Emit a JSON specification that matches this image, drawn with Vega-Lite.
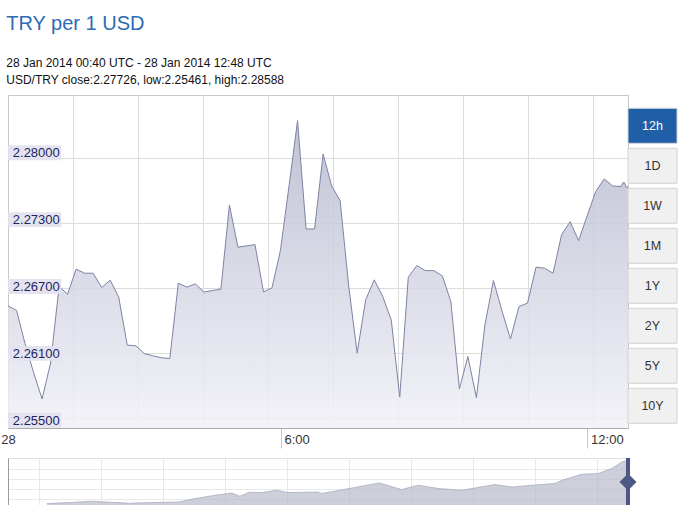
{
  "$schema": "https://vega.github.io/schema/vega-lite/v6.json",
  "background": "#ffffff",
  "padding": {"left": 0, "top": 13, "right": 0, "bottom": 0},
  "config": {"font": "Liberation Sans", "axis": {"labelFont": "Liberation Sans"}},
  "title": {
    "text": "TRY per 1 USD",
    "subtitle": ["28 Jan 2014 00:40 UTC - 28 Jan 2014 12:48 UTC", "USD/TRY close:2.27726, low:2.25461, high:2.28588"],
    "anchor": "start",
    "dx": 6,
    "font": "Liberation Sans",
    "fontSize": 20,
    "fontWeight": "normal",
    "color": "#2b6cb3",
    "subtitleFont": "Liberation Sans",
    "subtitleFontSize": 12,
    "subtitleColor": "#111111",
    "subtitleLineHeight": 17,
    "subtitlePadding": 24,
    "offset": 9
  },
  "spacing": 6,
  "datasets": {
    "rates": [
      {"time": "2014-01-28T00:40:00Z", "rate": 2.26580},
      {"time": "2014-01-28T00:50:00Z", "rate": 2.26535},
      {"time": "2014-01-28T01:00:00Z", "rate": 2.26217},
      {"time": "2014-01-28T01:10:00Z", "rate": 2.25938},
      {"time": "2014-01-28T01:20:00Z", "rate": 2.25683},
      {"time": "2014-01-28T01:30:00Z", "rate": 2.26029},
      {"time": "2014-01-28T01:40:00Z", "rate": 2.26765},
      {"time": "2014-01-28T01:50:00Z", "rate": 2.26692},
      {"time": "2014-01-28T02:00:00Z", "rate": 2.26933},
      {"time": "2014-01-28T02:10:00Z", "rate": 2.26894},
      {"time": "2014-01-28T02:20:00Z", "rate": 2.26894},
      {"time": "2014-01-28T02:30:00Z", "rate": 2.26756},
      {"time": "2014-01-28T02:40:00Z", "rate": 2.26827},
      {"time": "2014-01-28T02:50:00Z", "rate": 2.26664},
      {"time": "2014-01-28T03:00:00Z", "rate": 2.26202},
      {"time": "2014-01-28T03:10:00Z", "rate": 2.26195},
      {"time": "2014-01-28T03:20:00Z", "rate": 2.26121},
      {"time": "2014-01-28T03:30:00Z", "rate": 2.26099},
      {"time": "2014-01-28T03:40:00Z", "rate": 2.26080},
      {"time": "2014-01-28T03:50:00Z", "rate": 2.26073},
      {"time": "2014-01-28T04:00:00Z", "rate": 2.26798},
      {"time": "2014-01-28T04:10:00Z", "rate": 2.26760},
      {"time": "2014-01-28T04:20:00Z", "rate": 2.26791},
      {"time": "2014-01-28T04:30:00Z", "rate": 2.26712},
      {"time": "2014-01-28T04:40:00Z", "rate": 2.26727},
      {"time": "2014-01-28T04:50:00Z", "rate": 2.26740},
      {"time": "2014-01-28T05:00:00Z", "rate": 2.27551},
      {"time": "2014-01-28T05:10:00Z", "rate": 2.27144},
      {"time": "2014-01-28T05:20:00Z", "rate": 2.27157},
      {"time": "2014-01-28T05:30:00Z", "rate": 2.27169},
      {"time": "2014-01-28T05:40:00Z", "rate": 2.26714},
      {"time": "2014-01-28T05:50:00Z", "rate": 2.26753},
      {"time": "2014-01-28T06:00:00Z", "rate": 2.27118},
      {"time": "2014-01-28T06:10:00Z", "rate": 2.27734},
      {"time": "2014-01-28T06:20:00Z", "rate": 2.28362},
      {"time": "2014-01-28T06:30:00Z", "rate": 2.27320},
      {"time": "2014-01-28T06:40:00Z", "rate": 2.27320},
      {"time": "2014-01-28T06:50:00Z", "rate": 2.28041},
      {"time": "2014-01-28T07:00:00Z", "rate": 2.27734},
      {"time": "2014-01-28T07:10:00Z", "rate": 2.27592},
      {"time": "2014-01-28T07:20:00Z", "rate": 2.26772},
      {"time": "2014-01-28T07:30:00Z", "rate": 2.26125},
      {"time": "2014-01-28T07:40:00Z", "rate": 2.26638},
      {"time": "2014-01-28T07:50:00Z", "rate": 2.26830},
      {"time": "2014-01-28T08:00:00Z", "rate": 2.26669},
      {"time": "2014-01-28T08:10:00Z", "rate": 2.26445},
      {"time": "2014-01-28T08:20:00Z", "rate": 2.25702},
      {"time": "2014-01-28T08:30:00Z", "rate": 2.26856},
      {"time": "2014-01-28T08:40:00Z", "rate": 2.26967},
      {"time": "2014-01-28T08:50:00Z", "rate": 2.26919},
      {"time": "2014-01-28T09:00:00Z", "rate": 2.26919},
      {"time": "2014-01-28T09:10:00Z", "rate": 2.26868},
      {"time": "2014-01-28T09:20:00Z", "rate": 2.26621},
      {"time": "2014-01-28T09:30:00Z", "rate": 2.25779},
      {"time": "2014-01-28T09:40:00Z", "rate": 2.26092},
      {"time": "2014-01-28T09:50:00Z", "rate": 2.25695},
      {"time": "2014-01-28T10:00:00Z", "rate": 2.26397},
      {"time": "2014-01-28T10:10:00Z", "rate": 2.26823},
      {"time": "2014-01-28T10:20:00Z", "rate": 2.26532},
      {"time": "2014-01-28T10:30:00Z", "rate": 2.26260},
      {"time": "2014-01-28T10:40:00Z", "rate": 2.26573},
      {"time": "2014-01-28T10:50:00Z", "rate": 2.26606},
      {"time": "2014-01-28T11:00:00Z", "rate": 2.26952},
      {"time": "2014-01-28T11:10:00Z", "rate": 2.26942},
      {"time": "2014-01-28T11:20:00Z", "rate": 2.26894},
      {"time": "2014-01-28T11:30:00Z", "rate": 2.27263},
      {"time": "2014-01-28T11:40:00Z", "rate": 2.27390},
      {"time": "2014-01-28T11:50:00Z", "rate": 2.27208},
      {"time": "2014-01-28T12:00:00Z", "rate": 2.27445},
      {"time": "2014-01-28T12:10:00Z", "rate": 2.27679},
      {"time": "2014-01-28T12:20:00Z", "rate": 2.27801},
      {"time": "2014-01-28T12:30:00Z", "rate": 2.27734},
      {"time": "2014-01-28T12:40:00Z", "rate": 2.27727},
      {"time": "2014-01-28T12:42:00Z", "rate": 2.27765},
      {"time": "2014-01-28T12:44:00Z", "rate": 2.27765},
      {"time": "2014-01-28T12:46:00Z", "rate": 2.27721},
      {"time": "2014-01-28T12:48:00Z", "rate": 2.27726}
    ],
    "yticks": [
      {"value": 2.255}, {"value": 2.26125}, {"value": 2.2675}, {"value": 2.27375}, {"value": 2.28}
    ],
    "buttons": [
      {"label": "12h"}, {"label": "1D"}, {"label": "1W"}, {"label": "1M"},
      {"label": "1Y"}, {"label": "2Y"}, {"label": "5Y"}, {"label": "10Y"}
    ],
    "nav": [
      {"t": "2013-12-31T10:00:00Z", "rate": 2.2100},
      {"t": "2014-01-01T11:00:00Z", "rate": 2.2120},
      {"t": "2014-01-02T14:00:00Z", "rate": 2.2146},
      {"t": "2014-01-03T13:00:00Z", "rate": 2.2126},
      {"t": "2014-01-04T09:00:00Z", "rate": 2.2106},
      {"t": "2014-01-05T12:00:00Z", "rate": 2.2120},
      {"t": "2014-01-06T19:00:00Z", "rate": 2.2132},
      {"t": "2014-01-07T14:00:00Z", "rate": 2.2200},
      {"t": "2014-01-08T13:00:00Z", "rate": 2.2266},
      {"t": "2014-01-09T09:00:00Z", "rate": 2.2312},
      {"t": "2014-01-09T18:00:00Z", "rate": 2.2246},
      {"t": "2014-01-10T05:00:00Z", "rate": 2.2326},
      {"t": "2014-01-10T19:00:00Z", "rate": 2.2320},
      {"t": "2014-01-11T13:00:00Z", "rate": 2.2366},
      {"t": "2014-01-12T02:00:00Z", "rate": 2.2320},
      {"t": "2014-01-12T18:00:00Z", "rate": 2.2326},
      {"t": "2014-01-13T13:00:00Z", "rate": 2.2332},
      {"t": "2014-01-13T17:00:00Z", "rate": 2.2300},
      {"t": "2014-01-15T07:00:00Z", "rate": 2.2420},
      {"t": "2014-01-16T12:00:00Z", "rate": 2.2512},
      {"t": "2014-01-17T14:00:00Z", "rate": 2.2380},
      {"t": "2014-01-18T09:00:00Z", "rate": 2.2466},
      {"t": "2014-01-19T09:00:00Z", "rate": 2.2400},
      {"t": "2014-01-20T12:00:00Z", "rate": 2.2366},
      {"t": "2014-01-22T02:00:00Z", "rate": 2.2480},
      {"t": "2014-01-22T22:00:00Z", "rate": 2.2432},
      {"t": "2014-01-23T21:00:00Z", "rate": 2.2466},
      {"t": "2014-01-25T00:00:00Z", "rate": 2.2500},
      {"t": "2014-01-25T08:00:00Z", "rate": 2.2566},
      {"t": "2014-01-26T07:00:00Z", "rate": 2.2686},
      {"t": "2014-01-27T02:00:00Z", "rate": 2.2700},
      {"t": "2014-01-27T18:00:00Z", "rate": 2.2800},
      {"t": "2014-01-28T05:30:00Z", "rate": 2.2932},
      {"t": "2014-01-28T10:00:00Z", "rate": 2.2952},
      {"t": "2014-01-28T12:48:00Z", "rate": 2.2946}
    ],
    "handle": [
      {"t": "2014-01-28T12:48:00Z"}
    ]
  },
  "vconcat": [
    {
      "spacing": 0,
      "bounds": "flush",
      "hconcat": [
        {
          "width": 620,
          "height": 333,
          "view": {"stroke": "#c8c8c8", "strokeWidth": 1},
          "layer": [
            {
              "data": {"name": "rates"},
              "mark": {
                "type": "area",
                "fillOpacity": 0.85,
                "color": {
                  "x1": 0, "y1": 0, "x2": 0, "y2": 1,
                  "gradient": "linear",
                  "stops": [
                    {"offset": 0, "color": "#b4b8cd"},
                    {"offset": 1, "color": "#f1f1f7"}
                  ]
                },
                "line": {"color": "#7f83a3", "strokeWidth": 1}
              },
              "encoding": {
                "x": {
                  "field": "time",
                  "type": "temporal",
                  "scale": {
                    "type": "utc",
                    "nice": false,
                    "domain": [
                      {"year": 2014, "month": 1, "date": 28, "hours": 0, "minutes": 40, "utc": true},
                      {"year": 2014, "month": 1, "date": 28, "hours": 12, "minutes": 48, "utc": true}
                    ]
                  },
                  "axis": {
                    "orient": "bottom",
                    "title": null,
                    "grid": false,
                    "values": [1390869600000, 1390888800000, 1390910400000],
                    "labelExpr": "utchours(datum.value) == 0 ? '28' : utchours(datum.value) + ':00'",
                    "labelFlush": false,
                    "labelOverlap": false,
                    "labelAlign": {"condition": {"test": "utchours(datum.value) == 0", "value": "center"}, "value": "left"},
                    "labelOffset": {"condition": {"test": "utchours(datum.value) == 0", "value": 0}, "value": 3.5},
                    "labelBaseline": "alphabetic",
                    "labelPadding": -4.3,
                    "labelFontSize": 13,
                    "labelColor": "#333333",
                    "tickSize": 20,
                    "tickColor": {"condition": {"test": "utchours(datum.value) == 0", "value": "transparent"}, "value": "#c8c8c8"},
                    "domainColor": "#aaaaaa"
                  }
                },
                "y": {
                  "field": "rate",
                  "type": "quantitative",
                  "scale": {"domain": [2.25404, 2.28609], "nice": false, "zero": false},
                  "axis": {
                    "orient": "right",
                    "title": null,
                    "values": [2.255, 2.26125, 2.2675, 2.27375, 2.28],
                    "grid": true,
                    "gridColor": "#dcdcdc",
                    "labels": false,
                    "ticks": false,
                    "domain": false,
                    "minExtent": 0,
                    "maxExtent": 0
                  }
                },
                "y2": {"datum": 2.25404}
              }
            },
            {
              "data": {"name": "yticks"},
              "mark": {
                "type": "point",
                "shape": "M-1,-0.28L1,-0.28L1,0.28L-1,0.28Z",
                "filled": true,
                "color": "#e2e2f0",
                "opacity": 0.92,
                "size": 2841
              },
              "encoding": {
                "x": {
                  "datum": {"year": 2014, "month": 1, "date": 28, "hours": 1, "minutes": 11, "seconds": 12, "utc": true},
                  "type": "temporal",
                  "scale": {"type": "utc"},
                  "axis": {
                    "orient": "top",
                    "title": null,
                    "values": [1390874179200, 1390878758400, 1390883337600, 1390887916800, 1390892496000, 1390897075200, 1390901654400, 1390906233600, 1390910812800],
                    "grid": true,
                    "gridColor": "#dcdcdc",
                    "labels": false,
                    "ticks": false,
                    "domain": false,
                    "minExtent": 0,
                    "maxExtent": 0
                  }
                },
                "y": {
                  "field": "value",
                  "type": "quantitative",
                  "scale": {"domain": [2.25428, 2.28539], "nice": false, "zero": false},
                  "axis": {
                    "orient": "left",
                    "title": null,
                    "values": [2.255, 2.26125, 2.2675, 2.27375, 2.28],
                    "labelExpr": "format(floor(datum.value * 1000 + 0.000001) / 1000, '.5f')",
                    "grid": false,
                    "ticks": false,
                    "domain": false,
                    "labelAlign": "left",
                    "labelBaseline": "middle",
                    "labelPadding": -4.3,
                    "labelFontSize": 13,
                    "labelColor": "#24245c",
                    "zindex": 1
                  }
                }
              }
            }
          ],
          "resolve": {"scale": {"y": "independent"}, "axis": {"x": "independent", "y": "independent"}}
        },
        {
          "width": 49,
          "height": 333,
          "view": {"stroke": null},
          "data": {"name": "buttons"},
          "encoding": {
            "y": {
              "field": "label",
              "type": "nominal",
              "sort": null,
              "scale": {"range": [13.3, 328.3], "paddingInner": 0.125, "paddingOuter": 0},
              "axis": null
            }
          },
          "layer": [
            {
              "mark": {"type": "rect", "stroke": "#d2d2d2", "strokeWidth": 1},
              "encoding": {
                "color": {"condition": {"test": "datum.label == '12h'", "value": "#1f5fa8"}, "value": "#f0f0f0"}
              }
            },
            {
              "mark": {"type": "text", "font": "Liberation Sans", "fontSize": 12.5},
              "encoding": {
                "text": {"field": "label"},
                "color": {"condition": {"test": "datum.label == '12h'", "value": "#ffffff"}, "value": "#333333"}
              }
            }
          ]
        }
      ]
    },
    {
      "width": 620,
      "height": 48,
      "view": {"stroke": "#e0e0e0", "strokeWidth": 1},
      "layer": [
        {
          "data": {"name": "nav"},
          "mark": {"type": "area", "color": "#b8bccb", "line": {"color": "#a8adc0", "strokeWidth": 0.8}},
          "encoding": {
            "x": {
              "field": "t",
              "type": "temporal",
              "scale": {
                "type": "utc",
                "nice": false,
                "domain": [
                  {"year": 2013, "month": 12, "date": 29, "hours": 12, "minutes": 48, "utc": true},
                  {"year": 2014, "month": 1, "date": 28, "hours": 12, "minutes": 48, "utc": true}
                ]
              },
              "axis": {
                "title": null,
                "values": [1388450880000, 1388580480000, 1388710080000, 1388839680000, 1388969280000, 1389098880000, 1389228480000, 1389358080000, 1389487680000, 1389617280000, 1389746880000, 1389876480000, 1390006080000, 1390135680000, 1390265280000, 1390394880000, 1390524480000, 1390654080000, 1390783680000],
                "grid": true,
                "gridColor": "#e8e8e8",
                "labels": false,
                "ticks": false,
                "domain": false
              }
            },
            "y": {
              "field": "rate",
              "type": "quantitative",
              "scale": {"domain": [2.2052, 2.3012], "nice": false, "zero": false},
              "axis": {
                "title": null,
                "values": [2.22, 2.24, 2.26, 2.28],
                "grid": true,
                "gridColor": "#e8e8e8",
                "labels": false,
                "ticks": false,
                "domain": true,
                "domainColor": "#999999"
              }
            },
            "y2": {"datum": 2.2052}
          }
        },
        {
          "data": {"name": "handle"},
          "mark": {"type": "rule", "color": "#4d5783", "strokeWidth": 4},
          "encoding": {"x": {"field": "t", "type": "temporal"}}
        },
        {
          "data": {"name": "handle"},
          "mark": {"type": "point", "shape": "diamond", "filled": true, "size": 289, "color": "#4d5783", "opacity": 1},
          "encoding": {"x": {"field": "t", "type": "temporal"}}
        }
      ]
    }
  ]
}
